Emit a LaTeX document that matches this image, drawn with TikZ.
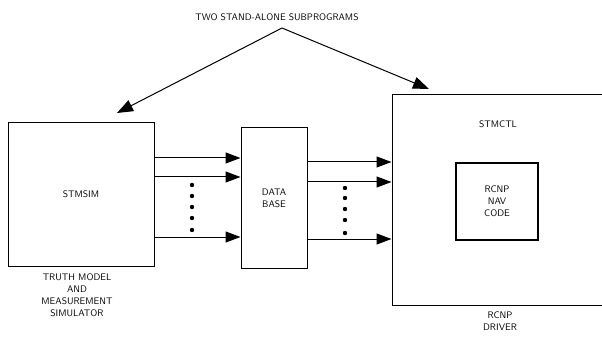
\documentclass[tikz,border=0pt]{standalone}
\usepackage{tikz}
\usetikzlibrary{arrows.meta,positioning,calc}

\begin{document}
\begin{tikzpicture}[x=1pt,y=-1pt, font=\sffamily\fontsize{9.5}{12}\selectfont,
	box/.style={draw,line width=1pt,inner sep=0pt,align=center},
	lbl/.style={inner sep=0pt,align=center},
	flow/.style={line width=1pt,-{Triangle[length=15pt,width=11pt]}},
	dot/.style={fill=black}]
			\useasboundingbox (0,0) rectangle (602,339);
			\node[lbl] (title) at (277,17) {TWO STAND-ALONE SUBPROGRAMS};
			\coordinate (apex) at (282,28);
			\coordinate (tipl) at (117,113);
			\coordinate (tipr) at (429,89);
			
			\node[box,minimum width=146pt,minimum height=143pt] (sim) at (81,194.5) {STMSIM};
			\node[box,minimum width=66pt,minimum height=140pt] (db) at (274,198) {DATA\\BASE};
			\node[box,minimum width=224pt,minimum height=210pt] (ctl) at (504,200) {};
			\node[lbl] (ctlname) at (498,124) {STMCTL};
			\node[box,line width=2pt,minimum width=82pt,minimum height=77pt] (nav) at (497,201.5) {RCNP\\NAV\\CODE};
			\node[lbl,anchor=north] (simtxt) at (77,273) {TRUTH MODEL\\AND\\MEASUREMENT\\SIMULATOR};
			\node[lbl,anchor=north] (drvtxt) at (500,312) {RCNP\\DRIVER};
			
			\draw[line width=1pt,-{Triangle[length=16pt,width=12pt]}] (apex)--(tipl);
			\draw[line width=1pt,-{Triangle[length=16pt,width=12pt]}] (apex)--(tipr);
			
			\foreach \y in {158,177,237}
				\draw[flow] (sim.east |- 0,\y)--(db.west |- 0,\y);
			\foreach \y in {162,182,239}
				\draw[flow] (db.east |- 0,\y)--(ctl.west |- 0,\y);
			\foreach \y in {185,196,207,218,230}
				\fill[dot] (192,\y) circle (2.2pt);
			\foreach \y in {188,198,209,220,233}
				\fill[dot] (345,\y) circle (2.2pt);
		\end{tikzpicture}
\end{document}
